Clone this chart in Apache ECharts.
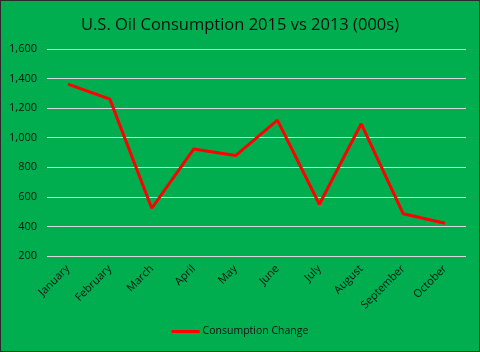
<!DOCTYPE html>
<html><head><meta charset="utf-8">
<script src="https://cdn.jsdelivr.net/npm/echarts@6/dist/echarts.min.js"></script>
<style>
html,body{margin:0;padding:0;background:#00AE4F;}
#c{width:480px;height:352px;box-sizing:border-box;border:1px solid #2b2b2b;}
</style></head>
<body><div id="c"></div>
<script>
const title = 'U.S. Oil Consumption 2015 vs 2013 (000s)';
const categories = ['January','February','March','April','May','June','July','August','September','October'];
const seriesName = 'Consumption Change';
const values = [1363, 1261, 523, 923, 879, 1119, 550, 1094, 486, 421];
const yTicks = [200, 1600, 200]; // min, max, interval

const chart = echarts.init(document.getElementById('c'), null, {renderer:'canvas'});
const font = '"Open Sans", "Liberation Sans", sans-serif';
chart.setOption({
  backgroundColor: '#00AE4F',
  animation: false,
  title: {text: title, left: 'center', top: 11,
    textStyle: {fontFamily: font, fontSize: 16.5, fontWeight: 'normal', color: '#111'}},
  grid: {left: 46, right: 13, top: 48, bottom: 95, containLabel: false},
  legend: {bottom: 9, left: 'center', itemWidth: 28, itemHeight: 3, itemGap: 4,
    icon: 'rect',
    textStyle: {fontFamily: font, fontSize: 10.5, color: '#111', padding: [0,0,0,-2]},
    data: [seriesName]},
  xAxis: {type: 'category', data: categories, boundaryGap: true,
    axisLine: {show: false}, axisTick: {show: false},
    axisLabel: {rotate: 45, fontFamily: font, fontSize: 11, color: '#111', margin: 11, interval: 0}},
  yAxis: {type: 'value', min: yTicks[0], max: yTicks[1], interval: yTicks[2],
    axisLine: {show: false}, axisTick: {show: false},
    splitLine: {lineStyle: {color: '#d9d9d9', width: 1}},
    axisLabel: {fontFamily: font, fontSize: 11, color: '#111', margin: 10,
      formatter: v => v.toLocaleString('en-US')}},
  series: [{name: seriesName, type: 'line', data: values, symbol: 'none',
    lineStyle: {color: '#FF0000', width: 3}, itemStyle: {color: '#FF0000'}}]
});
</script></body></html>
